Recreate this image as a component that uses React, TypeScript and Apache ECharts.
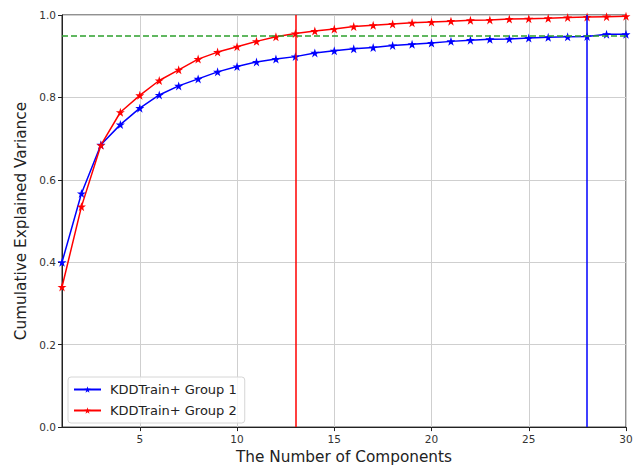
import React, { useEffect, useRef } from "react";
import * as echarts from "echarts";

const components = [1,2,3,4,5,6,7,8,9,10,11,12,13,14,15,16,17,18,19,20,21,22,23,24,25,26,27,28,29,30];
const group1 = [0.400,0.567,0.685,0.734,0.774,0.806,0.828,0.845,0.862,0.875,0.886,0.893,0.899,0.908,0.913,0.918,0.921,0.926,0.929,0.932,0.936,0.939,0.941,0.942,0.944,0.946,0.947,0.948,0.953,0.953];
const group2 = [0.340,0.535,0.684,0.764,0.805,0.841,0.867,0.893,0.910,0.923,0.936,0.947,0.955,0.961,0.966,0.972,0.975,0.978,0.981,0.983,0.985,0.987,0.988,0.990,0.991,0.992,0.994,0.995,0.996,0.997];
const xTicks = [5,10,15,20,25,30];
const threshold = 0.95;
const cut1 = 28;
const cut2 = 13;
const seriesNames = ["KDDTrain+ Group 1", "KDDTrain+ Group 2"];

const STAR = "path://M50,0 L61.8,35.4 L100,35.4 L69.1,57.3 L80.9,92.7 L50,70.8 L19.1,92.7 L30.9,57.3 L0,35.4 L38.2,35.4 Z";
const FONT = "DejaVu Sans";

export default function App() {
  const ref = useRef<HTMLDivElement>(null);
  useEffect(() => {
    if (!ref.current) return;
    const chart = echarts.init(ref.current, null, { renderer: "svg" });
    const line = (name: string, data: number[], color: string, cut: number, extra?: any) => ({
      name,
      type: "line",
      data: components.map((c, i) => [c, data[i]]),
      symbol: STAR,
      symbolSize: 9,
      showSymbol: true,
      lineStyle: { color, width: 1.5 },
      itemStyle: { color },
      z: 3,
      markLine: {
        silent: true,
        symbol: ["none", "none"],
        label: { show: false },
        data: [{ xAxis: cut, lineStyle: { color, width: 1.5, type: "solid" } }, ...(extra || [])],
      },
    });
    chart.setOption({
      animation: false,
      backgroundColor: "#ffffff",
      textStyle: { fontFamily: FONT },
      grid: {
        left: 62, top: 15, right: 15, bottom: 40,
        show: true, borderColor: "#222", borderWidth: 1, backgroundColor: "transparent",
      },
      legend: {
        left: 68, top: 377, orient: "vertical",
        itemWidth: 27, itemHeight: 8, itemGap: 8,
        padding: [6, 8, 6, 5],
        borderColor: "#d6d6d6", borderWidth: 1, borderRadius: 3,
        backgroundColor: "rgba(255,255,255,0.8)",
        textStyle: { fontFamily: FONT, fontSize: 13, color: "#222", padding: [0, 0, 0, 4] },
        data: seriesNames,
      },
      xAxis: {
        type: "value", min: 1, max: 30,
        name: "The Number of Components", nameLocation: "middle", nameGap: 21,
        nameTextStyle: { fontFamily: FONT, fontSize: 15.3, color: "#222" },
        axisLine: { show: true, onZero: false, lineStyle: { color: "#222" } },
        axisTick: { show: true, length: 4, customValues: xTicks, lineStyle: { color: "#222" } },
        axisLabel: { customValues: xTicks, fontFamily: FONT, fontSize: 10.5, color: "#333", margin: 6 },
        splitLine: { show: true, lineStyle: { color: "#cfcfcf", width: 1 } },
      },
      yAxis: {
        type: "value", min: 0, max: 1, interval: 0.2,
        name: "Cumulative Explained Variance", nameLocation: "middle", nameGap: 32,
        nameTextStyle: { fontFamily: FONT, fontSize: 15.3, color: "#222" },
        axisLine: { show: true, lineStyle: { color: "#222" } },
        axisTick: { show: true, length: 4, lineStyle: { color: "#222" } },
        axisLabel: { fontFamily: FONT, fontSize: 10.5, color: "#333", margin: 6, formatter: (v: number) => v.toFixed(1) },
        splitLine: { show: true, lineStyle: { color: "#cfcfcf", width: 1 } },
      },
      series: [
        line(seriesNames[0], group1, "#0000ff", cut1, [
          { yAxis: threshold, lineStyle: { color: "#2ca02c", width: 1.5, type: [6, 3] } },
        ]),
        line(seriesNames[1], group2, "#ff0000", cut2),
      ],
    });
    return () => chart.dispose();
  }, []);
  return <div ref={ref} style={{ width: 641, height: 469, position: "fixed", left: 0, top: 0 }} />;
}
